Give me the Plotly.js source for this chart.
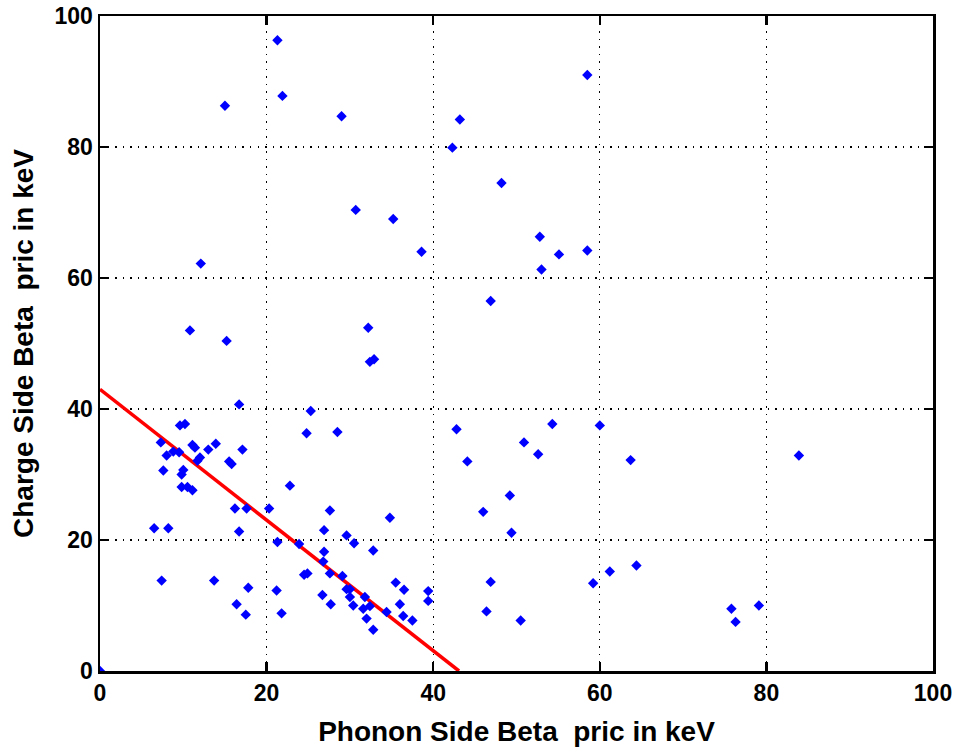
<!DOCTYPE html>
<html>
<head>
<meta charset="utf-8">
<script src="https://cdn.plot.ly/plotly-3.0.1.min.js"></script>
<style>html,body{margin:0;padding:0;background:#fff;}#chart{width:954px;height:747px;}</style>
</head>
<body>
<div id="chart"></div>
<script>
// Phonon side (x) and charge side (y) beta energies, keV
const phononX = [
  21.3, 15.0, 21.9, 29.0, 58.5, 42.3, 43.2, 48.2, 30.7, 35.2, 38.6, 52.8, 53.0, 55.1, 58.5, 46.9, 12.1, 10.8, 15.2, 32.2, 32.4, 32.9,
  16.7, 9.6, 10.2, 7.3, 8.0, 8.8, 9.5, 11.1, 11.4, 13.0, 13.9, 17.1, 11.7, 12.0, 15.5, 15.8, 7.6, 10.0, 9.8, 9.8, 10.5, 11.1, 22.8,
  16.2, 17.6, 20.3, 6.5, 8.2, 16.7, 21.3, 7.4, 13.7, 17.8, 21.2, 16.4, 17.5, 21.8, 0.0,
  25.3, 24.8, 28.5, 27.6, 34.8, 26.9, 29.6, 30.5, 23.9, 32.8, 26.9, 26.8, 24.5, 24.9, 27.6, 29.1, 29.6, 30.0, 30.0, 26.7, 27.7, 30.4,
  31.8, 31.6, 32.4, 32.0, 32.8, 34.4, 35.5, 36.5, 36.0, 36.4, 37.5, 39.4, 39.4, 42.8, 44.1,
  54.3, 50.9, 52.6, 60.0, 63.7, 49.2, 46.0, 49.4, 46.9, 46.4, 50.5, 59.2, 61.2, 64.4, 83.9, 75.8, 76.3, 79.1
];
const chargeY = [
  96.3, 86.3, 87.8, 84.7, 91.0, 79.9, 84.2, 74.5, 70.4, 69.0, 64.0, 66.3, 61.3, 63.6, 64.2, 56.5, 62.2, 52.0, 50.4, 52.4, 47.2, 47.6,
  40.7, 37.5, 37.7, 34.9, 32.9, 33.5, 33.4, 34.5, 34.1, 33.8, 34.7, 33.8, 32.1, 32.6, 32.0, 31.6, 30.6, 30.7, 30.0, 28.1, 28.1, 27.6, 28.3,
  24.8, 24.8, 24.8, 21.8, 21.8, 21.3, 19.7, 13.8, 13.8, 12.7, 12.3, 10.2, 8.6, 8.8, 0.0,
  39.7, 36.3, 36.5, 24.5, 23.4, 21.5, 20.7, 19.5, 19.4, 18.4, 18.2, 16.7, 14.7, 14.9, 14.9, 14.5, 12.5, 12.5, 11.3, 11.6, 10.2, 10.0,
  11.3, 9.5, 9.9, 8.0, 6.3, 9.0, 13.5, 12.4, 10.2, 8.4, 7.7, 12.2, 10.7, 36.9, 32.0,
  37.7, 34.9, 33.1, 37.5, 32.2, 26.8, 24.3, 21.1, 13.6, 9.1, 7.7, 13.4, 15.2, 16.1, 32.9, 9.5, 7.5, 10.0
];
// Cut line
const cutX = [0, 43.1];
const cutY = [43, 0];
const tickVals = [0, 20, 40, 60, 80, 100];
const xLabel = "Phonon Side Beta\u00a0 pric in keV";
const yLabel = "Charge Side Beta\u00a0 pric in keV";

const fontFam = "Liberation Sans, Arial, Helvetica, sans-serif";
const axisCommon = {
  range: [0, 100],
  tickvals: tickVals,
  ticktext: tickVals.map(String),
  ticks: "inside",
  ticklen: 9,
  tickwidth: 2.5,
  tickcolor: "#000",
  showline: true,
  linewidth: 2.5,
  linecolor: "#000",
  mirror: "ticks",
  showgrid: true,
  gridcolor: "#000",
  gridwidth: 1.2,
  griddash: "1.5px,6px",
  zeroline: false,
  tickfont: {family: fontFam, size: 23, color: "#000", weight: "bold"},
  fixedrange: true
};

const data = [
  {x: cutX, y: cutY, type: "scatter", mode: "lines",
   line: {color: "#ff0000", width: 3.5}, hoverinfo: "skip"},
  {x: phononX, y: chargeY, type: "scatter", mode: "markers",
   marker: {symbol: "diamond", size: 8, color: "#0000ff", line: {width: 0}}}
];

const layout = {
  width: 954, height: 747,
  margin: {l: 100, r: 21, t: 16, b: 76},
  paper_bgcolor: "#fff", plot_bgcolor: "#fff",
  showlegend: false,
  font: {family: fontFam, color: "#000"},
  xaxis: Object.assign({}, axisCommon, {
    title: {text: xLabel, font: {family: fontFam, size: 28, color: "#000", weight: "bold"}, standoff: 18}
  }),
  yaxis: Object.assign({}, axisCommon, {
    title: {text: yLabel, font: {family: fontFam, size: 28, color: "#000", weight: "bold"}, standoff: 13}
  })
};

Plotly.newPlot("chart", data, layout, {displayModeBar: false, staticPlot: true});
</script>
</body>
</html>
